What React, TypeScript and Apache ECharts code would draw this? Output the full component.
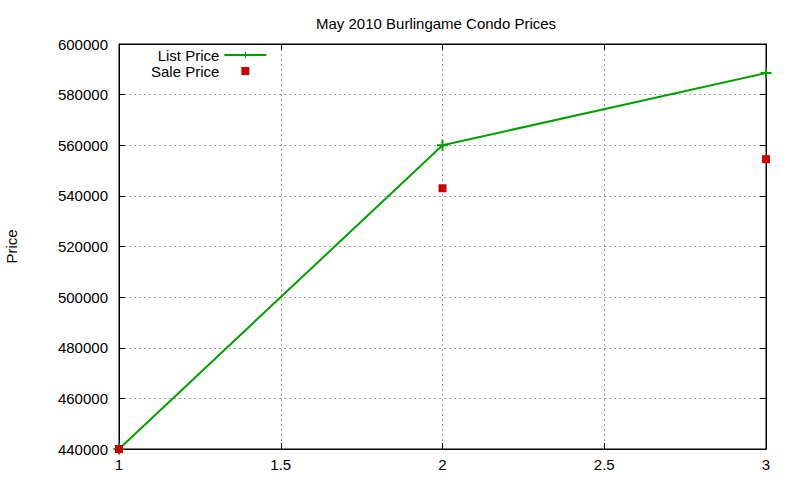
import React, { useEffect, useRef } from "react";
import * as echarts from "echarts";

const X_VALUES = [1, 2, 3];
const LIST_PRICE = [440000, 560000, 588500];
const SALE_PRICE = [440000, 543000, 554500];
const SERIES_NAMES = ["List Price", "Sale Price"];

const GREEN = "#00a000";
const RED = "#cc0000";
const FONT = "Liberation Sans, Arial, sans-serif";
const CROSS = "path://M4.5,0h2v4.5h4.5v2h-4.5v4.5h-2v-4.5h-4.5v-2h4.5z";

const App: React.FC = () => {
    const ref = useRef<HTMLDivElement | null>(null);

    useEffect(() => {
        if (!ref.current) return;
        const inst = echarts.init(ref.current, undefined, { renderer: "svg" });

        const tickInside = { show: true, inside: true, length: 6, lineStyle: { color: "#000" } };
        const gridLine = { show: true, lineStyle: { color: "#a0a0a0", type: [2, 3] as any, width: 1 } };

        inst.setOption({
            animation: false,
            backgroundColor: "#fff",
            textStyle: { fontFamily: FONT },
            title: {
                text: "May 2010 Burlingame Condo Prices",
                left: 311,
                top: 11,
                textStyle: { fontSize: 15, fontWeight: "normal", color: "#000", fontFamily: FONT },
            },
            legend: {
                orient: "vertical",
                left: 146,
                top: 42,
                align: "right",
                itemWidth: 42,
                itemHeight: 8,
                itemGap: 0,
                textStyle: {
                    fontSize: 15,
                    lineHeight: 16,
                    color: "#000",
                    fontFamily: FONT,
                },
                data: [
                    { name: SERIES_NAMES[0] },
                    { name: SERIES_NAMES[1], icon: "path://M0,0h8v8h-8z" },
                ],
            },
            grid: {
                left: 119,
                right: 34,
                top: 44,
                bottom: 31,
                outerBoundsMode: "none",
                containLabel: false,
                show: true,
                borderColor: "#000",
                borderWidth: 1,
            },
            xAxis: [
                {
                    type: "value",
                    min: 1,
                    max: 3,
                    interval: 0.5,
                    axisLine: { show: true, lineStyle: { color: "#000" } },
                    axisTick: tickInside,
                    axisLabel: { color: "#000", fontSize: 15, margin: 8, fontFamily: FONT },
                    splitLine: gridLine,
                },
                {
                    type: "value",
                    position: "top",
                    min: 1,
                    max: 3,
                    interval: 0.5,
                    axisLine: { show: true, lineStyle: { color: "#000" } },
                    axisTick: tickInside,
                    axisLabel: { show: false },
                    splitLine: { show: false },
                },
            ],
            yAxis: [
                {
                    type: "value",
                    min: 440000,
                    max: 600000,
                    interval: 20000,
                    name: "Price",
                    nameLocation: "middle",
                    nameGap: 100,
                    nameTextStyle: { fontSize: 15, color: "#000", fontFamily: FONT },
                    axisLine: { show: true, lineStyle: { color: "#000" } },
                    axisTick: tickInside,
                    axisLabel: {
                        color: "#000",
                        fontSize: 15,
                        margin: 11,
                        fontFamily: FONT,
                        formatter: (v: number) => String(v),
                    },
                    splitLine: gridLine,
                },
                {
                    type: "value",
                    position: "right",
                    min: 440000,
                    max: 600000,
                    interval: 20000,
                    axisLine: { show: true, lineStyle: { color: "#000" } },
                    axisTick: tickInside,
                    axisLabel: { show: false },
                    splitLine: { show: false },
                },
            ],
            series: [
                {
                    name: SERIES_NAMES[0],
                    type: "line",
                    xAxisIndex: 0,
                    yAxisIndex: 0,
                    data: X_VALUES.map((x, i) => [x, LIST_PRICE[i]]),
                    symbol: CROSS,
                    symbolSize: 11,
                    showAllSymbol: true,
                    lineStyle: { color: GREEN, width: 2 },
                    itemStyle: { color: GREEN, opacity: 1 },
                    z: 2,
                },
                {
                    name: SERIES_NAMES[1],
                    type: "scatter",
                    xAxisIndex: 0,
                    yAxisIndex: 0,
                    data: X_VALUES.map((x, i) => [x, SALE_PRICE[i]]),
                    symbol: "rect",
                    symbolSize: 8,
                    itemStyle: { color: RED, opacity: 1 },
                    z: 3,
                },
            ],
        });

        return () => inst.dispose();
    }, []);

    return (
        <div
            ref={ref}
            style={{ position: "fixed", left: 0, top: 0, width: 800, height: 480, background: "#fff" }}
        />
    );
};

export default App;
